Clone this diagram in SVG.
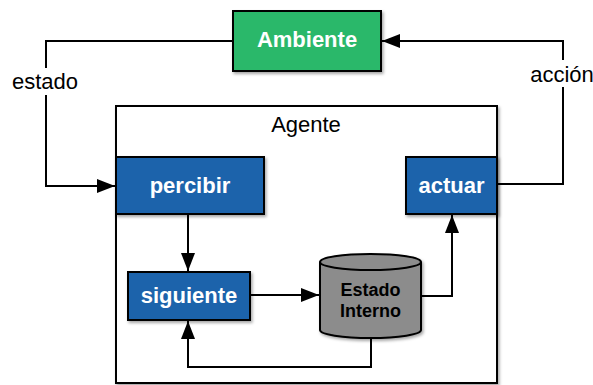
<svg xmlns="http://www.w3.org/2000/svg" width="593" height="385" viewBox="0 0 593 385">
  <defs>
    <filter id="shadow" x="-10%" y="-10%" width="130%" height="140%">
      <feDropShadow dx="1.5" dy="2" stdDeviation="1.5" flood-color="#000" flood-opacity="0.35"/>
    </filter>
    <marker id="arrow" viewBox="0 0 18 14" refX="18" refY="7" markerWidth="18" markerHeight="14" markerUnits="userSpaceOnUse" orient="auto">
      <path d="M0,0 L18,7 L0,14 Z" fill="#000"/>
    </marker>
  </defs>
  <style>
    .box { stroke: #000; stroke-width: 2; filter: url(#shadow); }
    .blue { fill: #1e64ab; }
    .green { fill: #2bb86b; }
    .lbl { font-family: "Liberation Sans", Arial, sans-serif; font-weight: bold; font-size: 22px; fill: #fff; text-anchor: middle; }
    .plain { font-family: "Liberation Sans", Arial, sans-serif; font-size: 22px; fill: #000; text-anchor: middle; }
    .edge { fill: none; stroke: #000; stroke-width: 2; }
  </style>
  <rect width="593" height="385" fill="#fff"/>

  <g id="agente">
    <rect x="116" y="106" width="381" height="277" fill="#fff" stroke="#000" stroke-width="2" filter="url(#shadow)"/>
    <text class="plain" x="306" y="132">Agente</text>
  </g>

  <g id="connectors">
    <path class="edge" d="M233,41 H46 V186 H115" marker-end="url(#arrow)"/>
    <path class="edge" d="M497,184 H563 V41 H382" marker-end="url(#arrow)"/>
    <path class="edge" d="M188,214 V271" marker-end="url(#arrow)"/>
    <path class="edge" d="M250,295 H319" marker-end="url(#arrow)"/>
    <path class="edge" d="M421,296 H452 V215" marker-end="url(#arrow)"/>
    <path class="edge" d="M371,338 V367 H188 V321" marker-end="url(#arrow)"/>
    <rect x="10" y="68" width="70" height="27" fill="#fff"/>
    <text class="plain" x="45" y="89">estado</text>
    <rect x="528" y="60" width="65" height="27" fill="#fff"/>
    <text class="plain" x="562" y="82">acción</text>
  </g>

  <g id="ambiente">
    <rect class="box green" x="233" y="11" width="148" height="60"/>
    <text class="lbl" x="307" y="47">Ambiente</text>
  </g>

  <g id="percibir">
    <rect class="box blue" x="116" y="157" width="148" height="57"/>
    <text class="lbl" x="190" y="193">percibir</text>
  </g>

  <g id="actuar">
    <rect class="box blue" x="406" y="157" width="91" height="57"/>
    <text class="lbl" x="451.5" y="193">actuar</text>
  </g>

  <g id="siguiente">
    <rect class="box blue" x="128" y="272" width="122" height="48"/>
    <text class="lbl" x="189" y="303">siguiente</text>
  </g>

  <g id="estado-interno">
    <path d="M320,262 V330 A50.5,8 0 0 0 421,330 V262 A50.5,8 0 0 0 320,262 Z" fill="#8c8c8c" stroke="#000" stroke-width="2" filter="url(#shadow)"/>
    <path d="M320,262 A50.5,8 0 0 0 421,262" fill="none" stroke="#000" stroke-width="2"/>
    <text font-family="'Liberation Sans', Arial, sans-serif" font-weight="bold" font-size="18" fill="#000" text-anchor="middle" x="370.5" y="296">Estado</text>
    <text font-family="'Liberation Sans', Arial, sans-serif" font-weight="bold" font-size="18" fill="#000" text-anchor="middle" x="370.5" y="317">Interno</text>
  </g>
</svg>
